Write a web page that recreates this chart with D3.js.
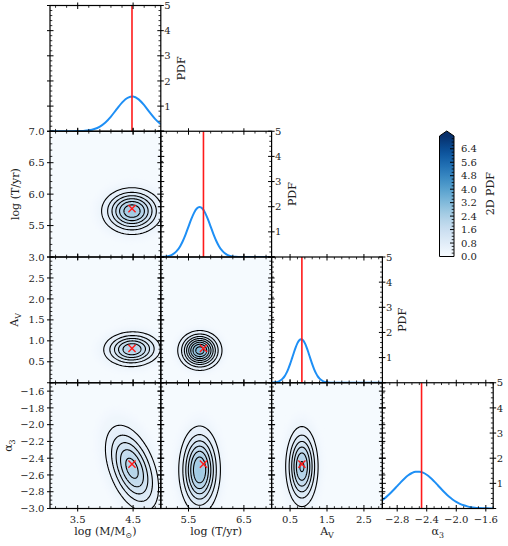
<!DOCTYPE html>
<html><head><meta charset="utf-8">
<script src="https://cdn.jsdelivr.net/npm/d3@7"></script>
<style>body{margin:0;background:#fff}svg{display:block;font-family:"DejaVu Serif",serif}</style>
</head><body><svg id="c" width="508" height="546"></svg>
<script>
// ---------------- data ----------------
const paramRanges = [[3, 5], [5, 7], [0, 3], [-3, -1.5]];
const truths = [4.48, 5.77, 0.82, -2.47];
const xMajors = [[3.5, 4.5], [5.5, 6.5], [0.5, 1.5, 2.5], [-2.8, -2.4, -2.0, -1.6]];
const yMajors = [[0, 1, 2, 3, 4, 5], [5.0, 5.5, 6.0, 6.5, 7.0], [0, 0.5, 1.0, 1.5, 2.0, 2.5, 3.0],
  [-3.0, -2.8, -2.6, -2.4, -2.2, -2.0, -1.8, -1.6]];
const yLabelSkip = [null, 5.0, 0, null];
const pdfMajors = [0, 1, 2, 3, 4, 5];
const pdfLabels = [1, 2, 3, 4, 5];
const cbarTicks = [0.0, 0.8, 1.6, 2.4, 3.2, 4.0, 4.8, 5.6, 6.4];

const logMGrid = [3.0,3.1,3.2,3.3,3.4,3.5,3.6,3.7,3.8,3.9,4.0,4.1,4.2,4.3,4.4,4.5,4.6,4.7,4.8,4.9,5.0];
const logMPdf  = [0,0,0,0,0.001,0.005,0.014,0.037,0.088,0.187,0.35,0.585,0.866,1.138,1.329,1.377,1.267,1.035,0.75,0.484,0.277];
const logTGrid = [5.0,5.05,5.1,5.15,5.2,5.25,5.3,5.35,5.4,5.45,5.5,5.55,5.6,5.65,5.7,5.75,5.8,5.85,5.9,5.95,6.0,6.05,6.1,6.15,6.2,6.25,6.3,6.35,6.4,6.5,6.6,6.8,7.0];
const logTPdf  = [0.004,0.010,0.022,0.045,0.087,0.158,0.269,0.43,0.646,0.911,1.207,1.502,1.756,1.928,1.99,1.928,1.756,1.502,1.207,0.911,0.646,0.43,0.269,0.158,0.087,0.045,0.022,0.010,0.004,0.001,0,0,0];
const avGrid   = [0,0.1,0.2,0.3,0.35,0.4,0.45,0.5,0.55,0.6,0.65,0.7,0.75,0.8,0.85,0.9,0.95,1.0,1.05,1.1,1.15,1.2,1.25,1.3,1.4,1.5,1.6,1.8,2.0,2.5,3.0];
const avPdf    = [0.004,0.017,0.058,0.163,0.255,0.382,0.544,0.739,0.958,1.185,1.399,1.574,1.69,1.73,1.69,1.574,1.399,1.185,0.958,0.739,0.544,0.382,0.255,0.163,0.058,0.017,0.004,0,0,0,0];
const a3Grid   = [-3.0,-2.95,-2.9,-2.85,-2.8,-2.75,-2.7,-2.65,-2.6,-2.55,-2.5,-2.45,-2.4,-2.35,-2.3,-2.25,-2.2,-2.15,-2.1,-2.05,-2.0,-1.95,-1.9,-1.85,-1.8,-1.75,-1.7,-1.65,-1.6,-1.55,-1.5];
const a3Pdf    = [0.338,0.452,0.585,0.734,0.892,1.049,1.195,1.32,1.411,1.462,1.466,1.425,1.341,1.223,1.079,0.924,0.765,0.614,0.477,0.359,0.262,0.185,0.127,0.084,0.054,0.034,0.020,0.012,0.007,0.004,0.002];
const grids = [logMGrid, logTGrid, avGrid, a3Grid];
const pdfs = [logMPdf, logTPdf, avPdf, a3Pdf];

// 2D panels: [column param, row param]
const pairs      = [[0, 1], [0, 2], [1, 2], [0, 3], [1, 3], [2, 3]];
const pairCx     = [4.48, 4.48, 5.705, 4.48, 5.70, 0.82];
const pairCy     = [5.73, 0.80, 0.77, -2.52, -2.54, -2.50];
const pairSx     = [0.28, 0.27, 0.193, 0.26, 0.19, 0.23];
const pairSy     = [0.19, 0.22, 0.23, 0.278, 0.265, 0.25];
const pairRho    = [0, 0.03, 0, -0.45, 0, 0];
const pairRings  = [[1.96,1.57,1.29,1.04,0.80,0.52], [1.89,1.48,1.17,0.90,0.60],
  [2.07,1.71,1.45,1.24,1.04,0.85,0.64,0.38], [1.845,1.42,1.10,0.795,0.43],
  [1.98,1.59,1.31,1.07,0.84,0.58], [1.91,1.50,1.20,0.93,0.65,0.24]];
const ringLevels = [0.4, 0.8, 1.2, 1.6, 2.0, 2.4, 2.8, 3.2];
const haloRadii  = [2.6, 2.3];
const haloLevels = [0.15, 0.3];

const axisLabels = [["log (M/M", {sub: "\u2299"}, ")"], ["log (T/yr)"], ["A", {sub: "V"}], ["\u03b1", {sub: "3"}]];

// ---------------- layout ----------------
const X0 = 50, Y0 = 5.5, PW = 110.8, PH = 125.75, vmax = 7.16;
const svg = d3.select("#c");
const defs = svg.append("defs");
const filt = defs.append("filter").attr("id", "blur").attr("x", "-50%").attr("y", "-50%").attr("width", "200%").attr("height", "200%");
filt.append("feGaussianBlur").attr("stdDeviation", 2.6);

const color = d3.scaleSequential(d3.interpolateBlues).domain([0, vmax]);
const xs = d3.range(4).map(i => d3.scaleLinear().domain(paramRanges[i]).range([X0 + i * PW, X0 + (i + 1) * PW]));
const ys = d3.range(4).map(j => d3.scaleLinear().domain(paramRanges[j]).range([Y0 + (j + 1) * PH, Y0 + j * PH]));
const ps = d3.range(4).map(j => d3.scaleLinear().domain([0, 5]).range([Y0 + (j + 1) * PH, Y0 + j * PH]));
const fmt = d3.format(".1f");

function minorTicks(majors, step, dom) {
  const lo = Math.min(...dom), hi = Math.max(...dom), out = [];
  for (let k = -300; k <= 300; k++) {
    const v = +(majors[0] + k * step).toFixed(5);
    if (v >= lo - 1e-9 && v <= hi + 1e-9 && !majors.some(m => Math.abs(m - v) < 1e-9)) out.push(v);
  }
  return out;
}
const xMinor = [0.2, 0.2, 0.2, 0.1].map((s, i) => minorTicks(xMajors[i], s, paramRanges[i]));
const yMinor = [0.2, 0.1, 0.1, 0.05].map((s, i) => minorTicks(yMajors[i], s, i === 0 ? [0, 5] : paramRanges[i]));
const pdfMinor = minorTicks(pdfMajors, 0.2, [0, 5]);

function drawTicks(g, orient, scale, pos, majors, minors) {
  const seg = (v, out, inn) => {
    const p = scale(v);
    if (orient === "bottom") return [p, pos + out, p, pos - inn];
    if (orient === "top") return [p, pos - out, p, pos + inn];
    if (orient === "left") return [pos - out, p, pos + inn, p];
    return [pos + out, p, pos - inn, p];
  };
  const add = (vals, out, inn, w) => g.selectAll(null).data(vals).enter().append("line")
    .attr("x1", d => seg(d, out, inn)[0]).attr("y1", d => seg(d, out, inn)[1])
    .attr("x2", d => seg(d, out, inn)[2]).attr("y2", d => seg(d, out, inn)[3])
    .attr("stroke", "#000").attr("stroke-width", w);
  add(majors, 3, 3.5, 1);
  add(minors, 0, 2.3, 0.8);
}

function addLabel(t, parts) {
  let shifted = false;
  parts.forEach(p => {
    if (typeof p === "string") {
      const s = t.append("tspan").text(p);
      if (shifted) { s.attr("dy", -3); shifted = false; }
    } else {
      t.append("tspan").attr("dy", 3).attr("font-size", "0.72em").text(p.sub);
      shifted = true;
    }
  });
}

// ---------------- 2D panels ----------------
pairs.forEach((pr, k) => {
  const [i, j] = pr;
  const x = xs[i], y = ys[j];
  const x0 = X0 + i * PW, y0 = Y0 + j * PH;
  defs.append("clipPath").attr("id", "clip" + k).append("rect").attr("x", x0).attr("y", y0).attr("width", PW).attr("height", PH);
  const g = svg.append("g").attr("clip-path", `url(#clip${k})`);
  g.append("rect").attr("x", x0).attr("y", y0).attr("width", PW).attr("height", PH).attr("fill", color(0.06));
  const cx = pairCx[k], cy = pairCy[k], sx = pairSx[k], sy = pairSy[k], rho = pairRho[k];
  const pts = r => d3.range(120).map(n => {
    const t = 2 * Math.PI * n / 120, u = r * Math.cos(t), v = r * Math.sin(t);
    return [x(cx + sx * u), y(cy + sy * (rho * u + Math.sqrt(1 - rho * rho) * v))];
  });
  const line = d3.line().curve(d3.curveLinearClosed);
  const fills = g.append("g").attr("filter", "url(#blur)");
  const bands = haloRadii.map((r, n) => ({r, v: haloLevels[n]}))
    .concat(pairRings[k].map((r, n) => ({r, v: ringLevels[n] + 0.2})));
  fills.selectAll("path").data(bands).enter().append("path")
    .attr("d", d => line(pts(d.r))).attr("fill", d => color(d.v));
  g.append("g").selectAll("path").data(pairRings[k]).enter().append("path")
    .attr("d", r => line(pts(r))).attr("fill", "none").attr("stroke", "#000").attr("stroke-width", 1.1);
  const tx = x(truths[i]), ty = y(truths[j]), s = 3.6;
  g.append("path").attr("d", `M${tx - s},${ty - s}L${tx + s},${ty + s}M${tx - s},${ty + s}L${tx + s},${ty - s}`)
    .attr("stroke", "#ff1a1a").attr("stroke-width", 1.4);
});

// ---------------- 1D panels ----------------
for (let j = 0; j < 4; j++) {
  const x = xs[j], p = ps[j];
  const x0 = X0 + j * PW, y0 = Y0 + j * PH;
  defs.append("clipPath").attr("id", "clipd" + j).append("rect").attr("x", x0).attr("y", y0).attr("width", PW).attr("height", PH);
  const g = svg.append("g").attr("clip-path", `url(#clipd${j})`);
  const data = grids[j].map((gx, n) => [gx, pdfs[j][n]]);
  g.append("path").attr("d", d3.line().x(d => x(d[0])).y(d => p(d[1])).curve(d3.curveMonotoneX)(data))
    .attr("fill", "none").attr("stroke", "#1e8ff5").attr("stroke-width", 2);
  const lx = x(truths[j]);
  g.append("line").attr("x1", lx).attr("x2", lx).attr("y1", y0).attr("y2", y0 + PH)
    .attr("stroke", "#ff1a1a").attr("stroke-width", 1.6);
}

// ---------------- frames & ticks ----------------
const ax = svg.append("g");
for (let j = 0; j < 4; j++) {
  for (let i = 0; i <= j; i++) {
    const x0 = X0 + i * PW, y0 = Y0 + j * PH;
    drawTicks(ax, "bottom", xs[i], y0 + PH, xMajors[i], xMinor[i]);
    drawTicks(ax, "top", xs[i], y0, xMajors[i], xMinor[i]);
    if (i === j) {
      drawTicks(ax, "left", ps[j], x0, pdfMajors, pdfMinor);
      drawTicks(ax, "right", ps[j], x0 + PW, pdfMajors, pdfMinor);
    } else {
      drawTicks(ax, "left", ys[j], x0, yMajors[j], yMinor[j]);
      drawTicks(ax, "right", ys[j], x0 + PW, yMajors[j], yMinor[j]);
    }
    ax.append("rect").attr("x", x0).attr("y", y0).attr("width", PW).attr("height", PH)
      .attr("fill", "none").attr("stroke", "#000").attr("stroke-width", 1.2);
  }
}

// ---------------- texts ----------------
const txt = svg.append("g").attr("font-size", 10).attr("fill", "#222");
for (let i = 0; i < 4; i++) {
  txt.selectAll(null).data(xMajors[i]).enter().append("text")
    .attr("x", d => xs[i](d)).attr("y", 522.5).attr("text-anchor", "middle").text(d => fmt(d));
  const t = txt.append("text").attr("x", X0 + (i + 0.5) * PW).attr("y", 534.5).attr("text-anchor", "middle").attr("font-size", 11);
  addLabel(t, axisLabels[i]);
}
const yLabX = [0, 19, 18, 11.5];
for (let j = 1; j < 4; j++) {
  const vals = yMajors[j].filter(v => v !== yLabelSkip[j]);
  txt.selectAll(null).data(vals).enter().append("text")
    .attr("x", 44.5).attr("y", d => ys[j](d)).attr("dy", "0.36em").attr("text-anchor", "end").text(d => fmt(d));
  const cy = Y0 + (j + 0.5) * PH;
  const t = txt.append("text").attr("transform", `translate(${yLabX[j]},${cy}) rotate(-90)`).attr("text-anchor", "middle").attr("font-size", 11);
  addLabel(t, axisLabels[j]);
}
for (let j = 0; j < 4; j++) {
  const xr = X0 + (j + 1) * PW;
  txt.selectAll(null).data(pdfLabels).enter().append("text")
    .attr("x", xr + 3.5).attr("y", d => ps[j](d)).attr("dy", "0.36em").text(d => d);
  if (j < 3) txt.append("text").attr("transform", `translate(${xr + 24},${Y0 + (j + 0.5) * PH}) rotate(-90)`)
    .attr("text-anchor", "middle").attr("font-size", 11).text("PDF");
}

// ---------------- colorbar ----------------
const cbX = 439.5, cbW = 14.5;
const cbS = d3.scaleLinear().domain([0, vmax]).range([256.5, 136]);
const grad = defs.append("linearGradient").attr("id", "cbg").attr("x1", 0).attr("y1", 1).attr("x2", 0).attr("y2", 0);
d3.range(0, 1.0001, 0.05).forEach(t => grad.append("stop").attr("offset", t).attr("stop-color", color(t * vmax)));
const cb = svg.append("g");
cb.append("rect").attr("x", cbX).attr("y", cbS(vmax)).attr("width", cbW).attr("height", cbS(0) - cbS(vmax)).attr("fill", "url(#cbg)");
const tip = cbS(vmax) - 5;
cb.append("path").attr("d", `M${cbX},${cbS(vmax)}L${cbX + cbW / 2},${tip}L${cbX + cbW},${cbS(vmax)}Z`).attr("fill", color(vmax));
const cbMinor = minorTicks(cbarTicks, 0.2, [0, vmax]);
drawTicks(cb, "right", cbS, cbX + cbW, [], cbMinor);
cb.selectAll(null).data(cbarTicks).enter().append("line")
  .attr("x1", cbX + cbW).attr("x2", cbX + cbW - 4).attr("y1", d => cbS(d)).attr("y2", d => cbS(d)).attr("stroke", "#000").attr("stroke-width", 1);
cb.append("path").attr("d", `M${cbX},${cbS(0)}L${cbX},${cbS(vmax)}L${cbX + cbW / 2},${tip}L${cbX + cbW},${cbS(vmax)}L${cbX + cbW},${cbS(0)}Z`)
  .attr("fill", "none").attr("stroke", "#000").attr("stroke-width", 1);
txt.selectAll(null).data(cbarTicks).enter().append("text")
  .attr("x", 461).attr("y", d => cbS(d)).attr("dy", "0.36em").text(d => fmt(d));
txt.append("text").attr("transform", `translate(493.5,${(cbS(0) + tip) / 2}) rotate(-90)`)
  .attr("text-anchor", "middle").attr("font-size", 11).text("2D PDF");
</script></body></html>
